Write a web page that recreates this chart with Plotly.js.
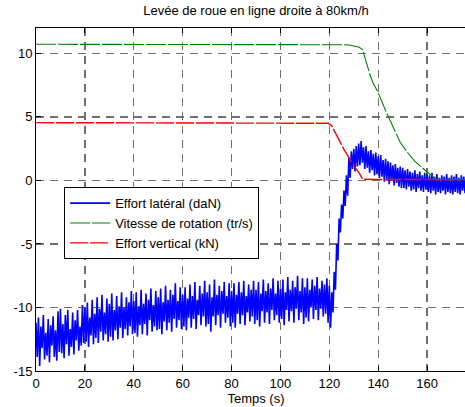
<!DOCTYPE html>
<html>
<head>
<meta charset="utf-8">
<script src="https://cdn.plot.ly/plotly-3.0.1.min.js"></script>
<style>
html,body{margin:0;padding:0;overflow:hidden;background:#fff;}
#chart{width:476px;height:407px;}
</style>
</head>
<body>
<div id="chart"></div>
<script>
// ---- Data ----
var titleText = "Levée de roue en ligne droite à 80km/h";
var xTitle = "Temps (s)";
var seriesNames = ["Effort latéral (daN)", "Vitesse de rotation (tr/s)", "Effort vertical (kN)"];

// Effort latéral: sampled every 0.5 s from t = 0
var lateralStart = 0;
var lateralStep = 0.5;
var lateralValues = [
 -11.2,-13.9,-10.8,-14.6,-11.5,-13.2,-10.6,-14.1,-12.0,-13.8,-10.9,-14.3,-11.4,-13.0,-10.7,-13.9,-11.8,-14.2,-10.3,-13.5,
 -10.1,-13.6,-11.3,-14.0,-10.6,-12.9,-10.2,-13.8,-11.7,-13.1,-10.4,-13.7,-11.0,-12.6,-10.2,-13.4,-11.5,-13.0,-9.8,-12.8,
 -10.0,-12.7,-9.6,-13.1,-10.8,-12.2,-9.4,-12.9,-10.5,-12.4,-9.2,-12.8,-10.1,-11.9,-9.0,-12.6,-10.4,-12.1,-9.3,-12.7,
 -9.7,-12.3,-8.9,-12.6,-10.2,-11.8,-9.1,-12.5,-9.9,-11.6,-8.8,-12.4,-10.0,-11.7,-9.2,-12.2,-9.6,-11.5,-8.7,-12.1,
 -9.5,-12.0,-8.8,-12.3,-9.9,-11.4,-8.6,-12.1,-9.7,-11.3,-8.9,-12.2,-9.4,-11.0,-8.5,-11.9,-9.8,-11.5,-8.7,-11.8,
 -9.2,-11.7,-8.5,-12.1,-9.6,-11.1,-8.3,-11.8,-9.4,-11.2,-8.6,-11.9,-9.0,-10.9,-8.1,-11.6,-9.5,-11.0,-8.4,-11.7,
 -9.0,-11.5,-8.4,-11.8,-9.3,-10.8,-8.2,-11.6,-9.1,-10.9,-8.0,-11.7,-9.4,-10.6,-8.3,-11.4,-8.9,-10.7,-7.9,-11.5,
 -8.8,-11.3,-8.2,-11.9,-9.2,-10.7,-7.8,-11.4,-9.0,-10.6,-8.3,-11.6,-8.7,-10.5,-8.0,-11.2,-9.1,-10.8,-8.1,-11.5,
 -8.7,-11.2,-8.1,-11.6,-9.0,-10.5,-8.0,-11.3,-8.8,-10.6,-7.9,-11.4,-9.1,-10.4,-8.2,-11.1,-8.6,-10.7,-7.9,-11.3,
 -8.6,-11.0,-8.0,-11.5,-8.9,-10.3,-7.8,-11.2,-8.7,-10.4,-8.1,-11.3,-8.5,-10.2,-7.7,-11.0,-8.9,-10.6,-7.9,-11.2,
 -8.5,-10.9,-7.8,-11.4,-8.8,-10.2,-7.6,-11.1,-8.6,-10.3,-7.9,-11.2,-8.4,-10.1,-7.5,-11.0,-8.7,-10.4,-7.7,-11.3,
 -8.4,-10.8,-7.7,-11.1,-8.6,-10.0,-7.8,-10.9,-8.3,-10.2,-7.6,-11.0,-8.5,-10.1,-7.9,-10.7,-8.2,-10.5,-7.7,-11.2,
 -8.3,-11.6,-8.8,-10.4,-7.2,-8.6,-5.0,-6.3,-3.0,-4.1,-1.9,-3.0,-0.8,-2.0,0.4,-1.2,1.8,0.2,2.3,0.9,
 2.5,0.7,2.7,1.1,2.9,1.2,3.1,1.4,2.6,0.9,2.7,1.0,2.3,0.6,2.4,0.8,2.1,0.4,2.2,0.5,
 1.9,0.2,2.0,0.3,1.6,-0.1,1.7,0.1,1.5,-0.3,1.4,0.0,1.2,-0.4,1.3,-0.2,1.0,-0.5,1.1,-0.6,
 1.0,-0.6,0.8,-0.7,0.9,-0.5,0.7,-0.8,0.6,-0.7,0.8,-0.9,0.5,-0.6,0.7,-0.8,0.4,-0.9,0.6,-0.7,
 0.5,-0.9,0.4,-1.0,0.6,-0.8,0.3,-1.1,0.5,-0.9,0.2,-1.0,0.4,-0.8,0.3,-1.1,0.5,-0.9,0.2,-1.0,
 0.4,-1.1,0.3,-0.9,0.5,-1.0,0.2,-1.1,0.4,-0.8,0.3,-1.0,0.6,-0.9,0.3
];

// Vitesse de rotation (tr/s)
var speedTime   = [0, 20, 60, 100, 127, 129, 131, 132, 133.6, 135, 136.5, 137.7, 140, 143, 146.3, 149, 152, 155, 158, 161, 163, 165, 178];
var speedValues = [10.72, 10.7, 10.7, 10.69, 10.68, 10.62, 10.55, 10.5, 10.3, 9.3, 8.4, 7.75, 6.9, 5.5, 4.1, 3.0, 2.2, 1.5, 1.0, 0.55, 0.2, 0.05, 0.05];

// Effort vertical (kN)
var verticalTime   = [0, 40, 80, 119.5, 121, 124.7, 126.1, 128, 130.2, 132.2, 133.6, 140, 150, 160, 178];
var verticalValues = [4.55, 4.53, 4.52, 4.5, 4.3, 2.85, 2.4, 1.8, 1.1, 0.6, 0.1, 0.08, 0.07, 0.06, 0.06];

var xTickVals = [0, 20, 40, 60, 80, 100, 120, 140, 160, 180];
var xTickText = ["0", "20", "40", "60", "80", "100", "120", "140", "160", "180"];
var yTickVals = [-15, -10, -5, 0, 5, 10];
var yTickText = ["-15", "-10", "-5", "0", "5", "10"];

// ---- Chart ----
var fontFam = "Liberation Sans, Arial, Helvetica, sans-serif";
var traces = [
  {type: "scatter", mode: "lines", name: seriesNames[0],
   x0: lateralStart, dx: lateralStep, y: lateralValues,
   line: {color: "#0000ff", width: 1.6}},
  {type: "scatter", mode: "lines", name: seriesNames[1],
   x: speedTime, y: speedValues,
   line: {color: "#008000", width: 1.1, dash: "20px,2px"}},
  {type: "scatter", mode: "lines", name: seriesNames[2],
   x: verticalTime, y: verticalValues,
   line: {color: "#ff0000", width: 1.4, dash: "18px,2px"}}
];

var axisCommon = {
  showline: true, linecolor: "#000", linewidth: 1, mirror: "ticks",
  ticks: "inside", ticklen: 5, tickcolor: "#000", tickwidth: 1,
  showgrid: true, gridcolor: "#707070", gridwidth: 1.4, griddash: "8px,6px",
  zeroline: false, tickfont: {family: fontFam, size: 13, color: "#000"},
  tickmode: "array"
};

var layout = {
  width: 476, height: 407,
  margin: {l: 36, r: 0, t: 28, b: 36},
  paper_bgcolor: "#fff", plot_bgcolor: "#fff",
  font: {family: fontFam, size: 13, color: "#000"},
  title: {text: titleText, font: {family: fontFam, size: 13, color: "#000"},
          x: 0.5, xref: "paper", xanchor: "center", y: 1, yref: "container", yanchor: "top", pad: {t: 6}},
  xaxis: Object.assign({}, axisCommon, {
    range: [0, 180], tickvals: xTickVals, ticktext: xTickText,
    title: {text: xTitle, font: {family: fontFam, size: 13, color: "#000"}, standoff: 4}
  }),
  yaxis: Object.assign({}, axisCommon, {
    range: [-15, 12], tickvals: yTickVals, ticktext: yTickText
  }),
  showlegend: true,
  legend: {
    x: 0.064, y: 0.536, xanchor: "left", yanchor: "top",
    bgcolor: "#fff", bordercolor: "#000", borderwidth: 1,
    font: {family: fontFam, size: 13, color: "#000"},
    itemwidth: 40, tracegroupgap: 0
  }
};

Plotly.newPlot("chart", traces, layout, {displayModeBar: false, staticPlot: true});
</script>
</body>
</html>
